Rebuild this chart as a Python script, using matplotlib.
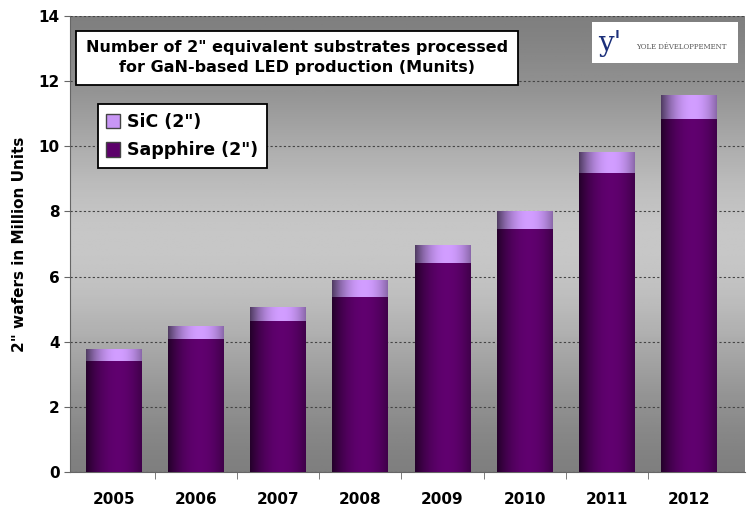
import matplotlib.pyplot as plt
import numpy as np
from matplotlib.colors import to_rgb
from matplotlib.patches import Patch, Rectangle

# data
years = ["2005", "2006", "2007", "2008", "2009", "2010", "2011", "2012"]
sapphire = [3.41, 4.08, 4.64, 5.37, 6.42, 7.46, 9.18, 10.84]
sic = [0.37, 0.40, 0.43, 0.53, 0.55, 0.55, 0.64, 0.74]

yticks = [0, 2, 4, 6, 8, 10, 12, 14]

sapph_col = "#5c006a"
sic_col = "#c896f5"


def shade(ax, bars, color):
    # cylinder look: dark edges, lighter just right of middle
    base = np.array(to_rgb(color))
    xs = np.linspace(-1, 1, 64) - 0.15
    k = 0.4 + 0.65 * np.clip(1 - (xs / 1.15) ** 2, 0, 1)
    img = np.clip(base[None, :] * k[:, None], 0, 1)[None, :, :]
    for b in bars:
        x0, y0 = b.get_x(), b.get_y()
        w, h = b.get_width(), b.get_height()
        im = ax.imshow(img, extent=[x0, x0 + w, y0, y0 + h], aspect="auto",
                       zorder=3, interpolation="bilinear")
        im.set_clip_path(b)


fig = plt.figure(figsize=(7.54, 5.12), dpi=100)
ax = fig.add_axes([0.093, 0.078, 0.895, 0.891])

x = np.arange(len(years))
xlim = (-0.53, 7.68)

# grey gradient background
yy = np.linspace(0, 1, 200)
g = 0.46 + 0.32 * np.exp(-((yy - 0.5) / 0.34) ** 2)
bg = np.repeat(g[:, None], 2, axis=1)
ax.imshow(bg, extent=[xlim[0], xlim[1], 0, 14], aspect="auto", cmap="gray",
          vmin=0, vmax=1, zorder=0, origin="lower")

b1 = ax.bar(x, sapphire, width=0.68, color=sapph_col, zorder=2)
b2 = ax.bar(x, sic, width=0.68, bottom=sapphire, color=sic_col, zorder=2)
shade(ax, b1, sapph_col)
shade(ax, b2, sic_col)

ax.set_xlim(*xlim)
ax.set_ylim(0, 14)
ax.set_yticks(yticks)
ax.set_xticks(x)
ax.set_xticks(x[:-1] + 0.5, minor=True)
ax.set_xticklabels(years, fontsize=11, fontweight="bold")
ax.set_yticklabels([str(v) for v in yticks], fontsize=11, fontweight="bold")
ax.yaxis.grid(True, linestyle=(0, (2, 2)), color="#444444", linewidth=0.8, zorder=1)
ax.set_axisbelow(False)
for s in ["top", "right"]:
    ax.spines[s].set_visible(False)
ax.spines["left"].set_color("#666666")
ax.spines["bottom"].set_color("#666666")
ax.tick_params(axis="x", which="major", length=0, pad=14)
ax.tick_params(axis="x", which="minor", length=5, color="#666666")
ax.tick_params(axis="y", length=4, color="#666666")
ax.set_ylabel("2\" wafers in Million Units", fontsize=11, fontweight="bold", labelpad=8)

# title box
ax.text(0.336, 0.908, "Number of 2\" equivalent substrates processed\nfor GaN-based LED production (Munits)",
        transform=ax.transAxes, ha="center", va="center", fontsize=11.5, fontweight="bold",
        linespacing=1.4, zorder=6,
        bbox=dict(boxstyle="square,pad=0.6", fc="white", ec="black", lw=1.3))

# logo
ax.add_patch(Rectangle((0.773, 0.897), 0.217, 0.09, transform=ax.transAxes,
                       fc="white", ec="none", zorder=6))
ax.text(0.80, 0.94, "y'", transform=ax.transAxes, ha="center", va="center",
        fontsize=20, color="#1b2f7a", family="DejaVu Serif", zorder=7)
ax.text(0.905, 0.932, "YOLE DÉVELOPPEMENT", transform=ax.transAxes, ha="center", va="center",
        fontsize=5, color="#555555", family="DejaVu Serif", zorder=7)

handles = [Patch(facecolor=sic_col, edgecolor="#444444"),
           Patch(facecolor=sapph_col, edgecolor="#444444")]
leg = ax.legend(handles, ["SiC (2\")", "Sapphire (2\")"], loc="upper left",
                bbox_to_anchor=(0.028, 0.825), prop={"weight": "bold", "size": 12.5},
                frameon=True, fancybox=False, edgecolor="black", framealpha=1,
                handlelength=0.8, handleheight=0.9, handletextpad=0.4,
                borderpad=0.5, labelspacing=0.6)
leg.get_frame().set_linewidth(1.3)
leg.set_zorder(6)

fig.savefig("out.png", dpi=100)
